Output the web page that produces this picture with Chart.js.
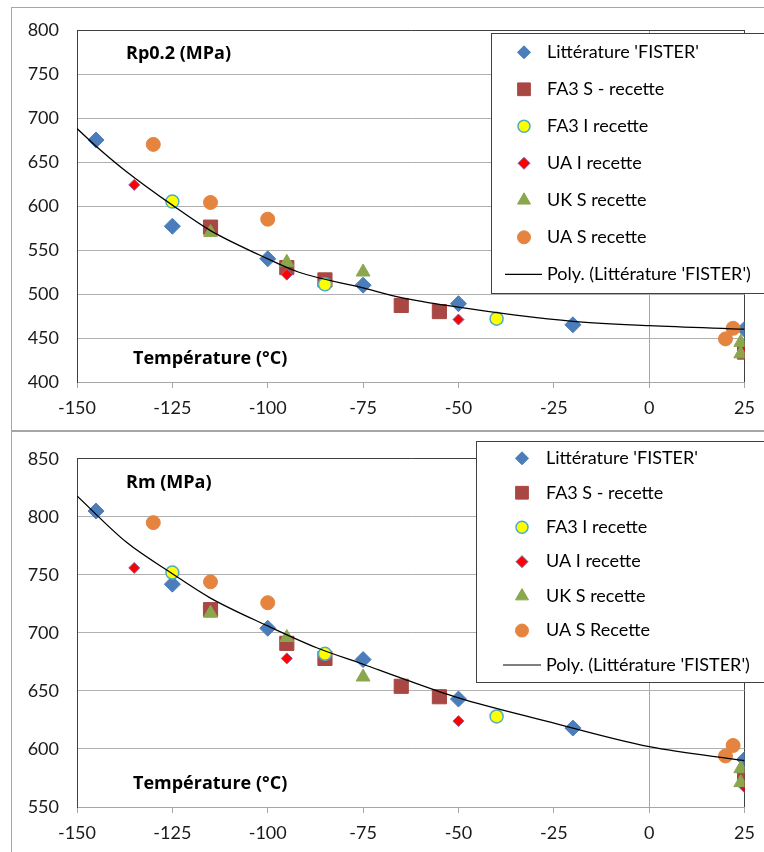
<!DOCTYPE html>
<html>
<head>
<meta charset="utf-8">
<script src="https://cdn.jsdelivr.net/npm/chart.js@4.4.0/dist/chart.umd.min.js"></script>
<style>
  html, body { margin: 0; padding: 0; background: #fff; }
  body { width: 764px; height: 852px; position: relative; overflow: hidden; }
  .panel { position: absolute; left: 11px; width: 800px; border: 1px solid #a6a6a6; }
  canvas { position: absolute; left: 0; }
</style>
</head>
<body>
<div class="panel" style="top:7px;height:422px"></div>
<div class="panel" style="top:431px;height:440px"></div>
<canvas id="rp" width="764" height="430" style="top:0"></canvas>
<canvas id="rm" width="764" height="422" style="top:430px"></canvas>
<script>
// temperatures (°C) of each test series
const tempFister = [-145, -125, -100, -75, -50, -20, 25];
const tempFa3S = [-115, -95, -85, -65, -55, 25];
const tempFa3I = [-125, -85, -40];
const tempUaI = [-135, -95, -50, 25];
const tempUkS = [-115, -95, -75, 24, 24];
const tempUaS = [-130, -115, -100, 20, 22];

// Rp0.2 (MPa)
const rpFister = [675, 577, 540, 510, 489, 465, 460];
const rpFa3S = [576, 530, 516, 487, 480, 434];
const rpFa3I = [605, 511, 472];
const rpUaI = [624, 522, 471, 436];
const rpUkS = [570, 536, 525, 445, 432];
const rpUaS = [670, 604, 585, 449, 461];
// poly trendline
const rpTrendT = [-150, -145, -137, -125, -115, -102, -92, -75, -65, -50, -35, -20, 0, 25];
const rpTrend = [688, 668, 639, 601, 572, 544, 525, 507, 496, 485, 476, 469, 464, 460];

// Rm (MPa)
const rmFister = [805, 742, 704, 677, 643, 618, 591];
const rmFa3S = [720, 691, 678, 654, 645, 578];
const rmFa3I = [752, 682, 628];
const rmUaI = [756, 678, 624, 567];
const rmUkS = [717, 696, 662, 583, 571];
const rmUaS = [795, 744, 726, 594, 603];
const rmTrendT = [-150, -137, -125, -115, -100, -87, -75, -65, -50, -27, 0, 25];
const rmTrend = [818, 778, 751, 730, 706, 687, 673, 661, 644, 624, 602, 590];

const labelsRp = ["Littérature 'FISTER'", "FA3 S - recette", "FA3 I recette", "UA I recette", "UK S recette", "UA S recette", "Poly. (Littérature 'FISTER')"];
const labelsRm = ["Littérature 'FISTER'", "FA3 S - recette", "FA3 I recette", "UA I recette", "UK S recette", "UA S Recette", "Poly. (Littérature 'FISTER')"];

const FONT = 'Lato';
const DARK = '#404040';
const GRID = '#b0b0b0';

const markers = [
  { style: 'rectRot', r: 8, lr: 6.5, bg: '#4A7DBA', bd: '#4A7DBA', bw: 1 },
  { style: 'rect', r: 10, lr: 9, bg: '#A94744', bd: '#A94744', bw: 1 },
  { style: 'circle', r: 6.5, lr: 6, bg: '#FFFF00', bd: '#4BACC6', bw: 1.5 },
  { style: 'rectRot', r: 5.5, lr: 6, bg: '#FF0000', bd: '#7F62A6', bw: 1 },
  { style: 'triangle', r: 8, lr: 7.5, bg: '#8AA74E', bd: '#8AA74E', bw: 1 },
  { style: 'circle', r: 7, lr: 6.5, bg: '#E5843F', bd: '#E5843F', bw: 1 }
];

const toPoints = (temps, vals) => temps.map((t, i) => ({ x: t, y: vals[i] }));

function overlay(title, labels, box) {
  return {
    id: 'overlay',
    afterDatasetsDraw(chart) {
      const ctx = chart.ctx;
      const a = chart.chartArea;
      ctx.save();
      ctx.fillStyle = '#000';
      ctx.textAlign = 'left';
      ctx.textBaseline = 'middle';
      ctx.font = 'bold 18px "Open Sans"';
      ctx.fillText(title, a.left + 49, a.top + 24);
      ctx.fillText('Température (°C)', a.left + 56, a.bottom - 23.5);

      // legend box
      ctx.fillStyle = '#fff';
      ctx.fillRect(box.x, box.y, box.w, box.h);
      ctx.strokeStyle = DARK;
      ctx.lineWidth = 1;
      ctx.strokeRect(box.x + 0.5, box.y + 0.5, box.w, box.h);
      ctx.font = '18px ' + FONT;
      labels.forEach((lab, i) => {
        const y = box.row0 + i * box.step;
        if (i < markers.length) {
          const m = markers[i];
          ctx.fillStyle = m.bg;
          ctx.strokeStyle = m.bd;
          ctx.lineWidth = m.bw;
          Chart.helpers.drawPoint(ctx, { pointStyle: m.style, radius: m.lr, rotation: 0, borderWidth: m.bw }, box.mx, y);
        } else {
          ctx.strokeStyle = '#000';
          ctx.lineWidth = 1.2;
          ctx.beginPath();
          ctx.moveTo(box.l0, y);
          ctx.lineTo(box.l1, y);
          ctx.stroke();
        }
        ctx.fillStyle = '#000';
        ctx.fillText(lab, box.tx, y);
      });
      ctx.restore();
    }
  };
}

function buildChart(id, series, trendT, trend, yMin, yMax, top, xh, title, labels, box) {
  const datasets = [{
    label: labels[6],
    data: toPoints(trendT, trend),
    showLine: true,
    borderColor: '#000',
    borderWidth: 1.3,
    pointRadius: 0,
    cubicInterpolationMode: 'monotone',
    order: 0
  }];
  series.forEach((s, i) => {
    const m = markers[i];
    datasets.push({
      label: labels[i],
      data: toPoints(s[0], s[1]),
      pointStyle: m.style,
      pointRadius: m.r,
      pointHoverRadius: m.r,
      backgroundColor: m.bg,
      borderColor: m.bd,
      borderWidth: m.bw,
      order: 6 - i
    });
  });

  return new Chart(document.getElementById(id), {
    type: 'scatter',
    data: { datasets },
    options: {
      responsive: false,
      animation: false,
      layout: { padding: { left: 11, top: top, right: 17, bottom: 0 } },
      plugins: { legend: { display: false }, tooltip: { enabled: false } },
      scales: {
        x: {
          type: 'linear', min: -150, max: 25,
          ticks: { stepSize: 25, color: '#1a1a1a', font: { family: FONT, size: 18 }, padding: 9 },
          grid: {
            color: c => c.tick && c.tick.value === 0 ? '#a6a6a6' : (c.tick && c.tick.value === 25 ? DARK : 'rgba(0,0,0,0)'),
            tickColor: '#a6a6a6',
            tickLength: 6
          },
          border: { color: '#a6a6a6' },
          afterFit: s => { s.height = xh; }
        },
        y: {
          min: yMin, max: yMax,
          ticks: { stepSize: 50, color: '#1a1a1a', font: { family: FONT, size: 18 }, padding: 18 },
          grid: { color: c => c.tick && c.tick.value === yMax ? DARK : GRID, drawTicks: false },
          border: { color: DARK },
          afterFit: s => { s.width = 66; }
        }
      }
    },
    plugins: [overlay(title, labels, box)]
  });
}

buildChart('rp',
  [[tempFister, rpFister], [tempFa3S, rpFa3S], [tempFa3I, rpFa3I], [tempUaI, rpUaI], [tempUkS, rpUkS], [tempUaS, rpUaS]],
  rpTrendT, rpTrend, 400, 800, 30, 48, 'Rp0.2 (MPa)', labelsRp,
  { x: 491, y: 33, w: 300, h: 260, row0: 52.3, step: 37, mx: 524, tx: 547, l0: 505, l1: 542 });

buildChart('rm',
  [[tempFister, rmFister], [tempFa3S, rmFa3S], [tempFa3I, rmFa3I], [tempUaI, rmUaI], [tempUkS, rmUkS], [tempUaS, rmUaS]],
  rmTrendT, rmTrend, 550, 850, 27, 45, 'Rm (MPa)', labelsRm,
  { x: 476, y: 11, w: 320, h: 241, row0: 28.3, step: 34.45, mx: 522, tx: 546, l0: 503, l1: 541 });
</script>
</body>
</html>
